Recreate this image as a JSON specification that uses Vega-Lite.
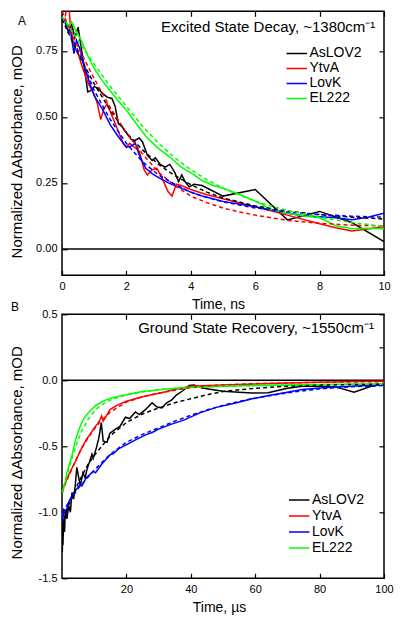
{
  "$schema": "https://vega.github.io/schema/vega-lite/v6.json",
  "autosize": {"type": "pad"},
  "padding": {"left": 8, "top": 9.3, "right": 10, "bottom": 8},
  "background": "white",
  "spacing": 39,
  "bounds": "flush",
  "config": {
    "view": {"stroke": "#000000", "strokeWidth": 1.5},
    "font": "Liberation Sans",
    "locale": {"number": {"decimal": ".", "thousands": ",", "grouping": [3], "currency": ["$", ""], "minus": "-"}},
    "axis": {
      "grid": false, "domain": false, "ticks": true,
      "tickColor": "#000000", "tickWidth": 1.2, "tickSize": 5, "offset": -5, "labelFlush": false,
      "labelColor": "#000000", "labelFont": "Liberation Sans", "labelFontSize": 11,
      "titleColor": "#000000", "titleFont": "Liberation Sans", "titleFontWeight": "normal"
    },
    "legend": {
      "orient": "none", "title": null,
      "labelFont": "Liberation Sans", "labelFontSize": 14, "labelColor": "#000",
      "symbolType": "M-4.3,0H4.3", "symbolStrokeWidth": 1.5, "symbolSize": 39,
      "rowPadding": 0, "labelOffset": 9, "padding": 0
    },
    "title": {"font": "Liberation Sans", "fontWeight": "normal", "color": "#000"}
  },
  "datasets": {
    "one": [{"k": 1}],
    "topObs": [
      {"s": "AsLOV2", "t": 0.08, "v": 0.87}, {"s": "AsLOV2", "t": 0.2, "v": 0.82}, {"s": "AsLOV2", "t": 0.3, "v": 0.85}, {"s": "AsLOV2", "t": 0.4, "v": 0.80}, {"s": "AsLOV2", "t": 0.5, "v": 0.84}, {"s": "AsLOV2", "t": 0.6, "v": 0.76}, {"s": "AsLOV2", "t": 0.7, "v": 0.68}, {"s": "AsLOV2", "t": 0.8, "v": 0.595}, {"s": "AsLOV2", "t": 0.9, "v": 0.60}, {"s": "AsLOV2", "t": 1.0, "v": 0.615}, {"s": "AsLOV2", "t": 1.1, "v": 0.61}, {"s": "AsLOV2", "t": 1.25, "v": 0.59}, {"s": "AsLOV2", "t": 1.4, "v": 0.575}, {"s": "AsLOV2", "t": 1.55, "v": 0.57}, {"s": "AsLOV2", "t": 1.65, "v": 0.54}, {"s": "AsLOV2", "t": 1.75, "v": 0.475}, {"s": "AsLOV2", "t": 1.85, "v": 0.465}, {"s": "AsLOV2", "t": 2.0, "v": 0.44}, {"s": "AsLOV2", "t": 2.15, "v": 0.415}, {"s": "AsLOV2", "t": 2.25, "v": 0.41}, {"s": "AsLOV2", "t": 2.4, "v": 0.42}, {"s": "AsLOV2", "t": 2.5, "v": 0.405}, {"s": "AsLOV2", "t": 2.65, "v": 0.355}, {"s": "AsLOV2", "t": 2.8, "v": 0.335}, {"s": "AsLOV2", "t": 2.9, "v": 0.345}, {"s": "AsLOV2", "t": 3.05, "v": 0.32}, {"s": "AsLOV2", "t": 3.2, "v": 0.31}, {"s": "AsLOV2", "t": 3.35, "v": 0.32}, {"s": "AsLOV2", "t": 3.5, "v": 0.29}, {"s": "AsLOV2", "t": 3.62, "v": 0.255}, {"s": "AsLOV2", "t": 3.72, "v": 0.28}, {"s": "AsLOV2", "t": 3.82, "v": 0.255}, {"s": "AsLOV2", "t": 3.95, "v": 0.235}, {"s": "AsLOV2", "t": 4.1, "v": 0.245}, {"s": "AsLOV2", "t": 4.35, "v": 0.24}, {"s": "AsLOV2", "t": 5.0, "v": 0.20}, {"s": "AsLOV2", "t": 6.0, "v": 0.225}, {"s": "AsLOV2", "t": 7.0, "v": 0.11}, {"s": "AsLOV2", "t": 8.0, "v": 0.142}, {"s": "AsLOV2", "t": 9.0, "v": 0.10}, {"s": "AsLOV2", "t": 10.0, "v": 0.028},
      {"s": "YtvA", "t": 0.1, "v": 0.88}, {"s": "YtvA", "t": 0.2, "v": 0.95}, {"s": "YtvA", "t": 0.25, "v": 0.86}, {"s": "YtvA", "t": 0.35, "v": 0.78}, {"s": "YtvA", "t": 0.4, "v": 0.76}, {"s": "YtvA", "t": 0.5, "v": 0.74}, {"s": "YtvA", "t": 0.6, "v": 0.70}, {"s": "YtvA", "t": 0.8, "v": 0.63}, {"s": "YtvA", "t": 1.0, "v": 0.585}, {"s": "YtvA", "t": 1.1, "v": 0.55}, {"s": "YtvA", "t": 1.2, "v": 0.49}, {"s": "YtvA", "t": 1.3, "v": 0.53}, {"s": "YtvA", "t": 1.4, "v": 0.55}, {"s": "YtvA", "t": 1.5, "v": 0.52}, {"s": "YtvA", "t": 1.7, "v": 0.46}, {"s": "YtvA", "t": 1.9, "v": 0.40}, {"s": "YtvA", "t": 2.0, "v": 0.385}, {"s": "YtvA", "t": 2.1, "v": 0.40}, {"s": "YtvA", "t": 2.25, "v": 0.385}, {"s": "YtvA", "t": 2.4, "v": 0.37}, {"s": "YtvA", "t": 2.55, "v": 0.30}, {"s": "YtvA", "t": 2.65, "v": 0.28}, {"s": "YtvA", "t": 2.8, "v": 0.30}, {"s": "YtvA", "t": 2.95, "v": 0.305}, {"s": "YtvA", "t": 3.1, "v": 0.27}, {"s": "YtvA", "t": 3.3, "v": 0.215}, {"s": "YtvA", "t": 3.42, "v": 0.20}, {"s": "YtvA", "t": 3.55, "v": 0.245}, {"s": "YtvA", "t": 3.7, "v": 0.24}, {"s": "YtvA", "t": 4.0, "v": 0.225}, {"s": "YtvA", "t": 4.5, "v": 0.205}, {"s": "YtvA", "t": 5.0, "v": 0.19}, {"s": "YtvA", "t": 6.0, "v": 0.16}, {"s": "YtvA", "t": 7.0, "v": 0.128}, {"s": "YtvA", "t": 8.0, "v": 0.095}, {"s": "YtvA", "t": 8.5, "v": 0.08}, {"s": "YtvA", "t": 9.0, "v": 0.068}, {"s": "YtvA", "t": 9.5, "v": 0.075}, {"s": "YtvA", "t": 10.0, "v": 0.085},
      {"s": "LovK", "t": 0.15, "v": 0.85}, {"s": "LovK", "t": 0.25, "v": 0.84}, {"s": "LovK", "t": 0.32, "v": 0.78}, {"s": "LovK", "t": 0.37, "v": 0.74}, {"s": "LovK", "t": 0.45, "v": 0.79}, {"s": "LovK", "t": 0.55, "v": 0.76}, {"s": "LovK", "t": 0.7, "v": 0.69}, {"s": "LovK", "t": 0.85, "v": 0.63}, {"s": "LovK", "t": 1.0, "v": 0.58}, {"s": "LovK", "t": 1.25, "v": 0.53}, {"s": "LovK", "t": 1.5, "v": 0.47}, {"s": "LovK", "t": 1.75, "v": 0.425}, {"s": "LovK", "t": 2.0, "v": 0.385}, {"s": "LovK", "t": 2.15, "v": 0.39}, {"s": "LovK", "t": 2.28, "v": 0.40}, {"s": "LovK", "t": 2.4, "v": 0.355}, {"s": "LovK", "t": 2.6, "v": 0.305}, {"s": "LovK", "t": 2.8, "v": 0.285}, {"s": "LovK", "t": 3.0, "v": 0.27}, {"s": "LovK", "t": 3.3, "v": 0.25}, {"s": "LovK", "t": 3.6, "v": 0.235}, {"s": "LovK", "t": 4.0, "v": 0.215}, {"s": "LovK", "t": 4.35, "v": 0.20}, {"s": "LovK", "t": 5.0, "v": 0.18}, {"s": "LovK", "t": 6.0, "v": 0.16}, {"s": "LovK", "t": 7.0, "v": 0.135}, {"s": "LovK", "t": 7.5, "v": 0.126}, {"s": "LovK", "t": 8.0, "v": 0.122}, {"s": "LovK", "t": 8.5, "v": 0.118}, {"s": "LovK", "t": 9.0, "v": 0.11}, {"s": "LovK", "t": 9.5, "v": 0.12}, {"s": "LovK", "t": 10.0, "v": 0.135},
      {"s": "EL222", "t": 0.1, "v": 0.87}, {"s": "EL222", "t": 0.2, "v": 0.84}, {"s": "EL222", "t": 0.3, "v": 0.86}, {"s": "EL222", "t": 0.45, "v": 0.82}, {"s": "EL222", "t": 0.6, "v": 0.79}, {"s": "EL222", "t": 0.77, "v": 0.74}, {"s": "EL222", "t": 0.97, "v": 0.69}, {"s": "EL222", "t": 1.2, "v": 0.645}, {"s": "EL222", "t": 1.49, "v": 0.60}, {"s": "EL222", "t": 1.75, "v": 0.56}, {"s": "EL222", "t": 2.01, "v": 0.524}, {"s": "EL222", "t": 2.3, "v": 0.475}, {"s": "EL222", "t": 2.63, "v": 0.423}, {"s": "EL222", "t": 3.0, "v": 0.38}, {"s": "EL222", "t": 3.36, "v": 0.347}, {"s": "EL222", "t": 3.7, "v": 0.31}, {"s": "EL222", "t": 4.06, "v": 0.284}, {"s": "EL222", "t": 4.35, "v": 0.259}, {"s": "EL222", "t": 4.7, "v": 0.24}, {"s": "EL222", "t": 5.0, "v": 0.23}, {"s": "EL222", "t": 5.4, "v": 0.212}, {"s": "EL222", "t": 5.9, "v": 0.186}, {"s": "EL222", "t": 6.2, "v": 0.17}, {"s": "EL222", "t": 6.4, "v": 0.152}, {"s": "EL222", "t": 7.0, "v": 0.135}, {"s": "EL222", "t": 7.5, "v": 0.125}, {"s": "EL222", "t": 8.0, "v": 0.118}, {"s": "EL222", "t": 8.5, "v": 0.088}, {"s": "EL222", "t": 9.0, "v": 0.076}, {"s": "EL222", "t": 9.5, "v": 0.078}, {"s": "EL222", "t": 10.0, "v": 0.076}
    ],
    "topFit": [
      {"s": "AsLOV2", "t": 0, "v": 0.87}, {"s": "AsLOV2", "t": 0.5, "v": 0.74}, {"s": "AsLOV2", "t": 1, "v": 0.625}, {"s": "AsLOV2", "t": 1.5, "v": 0.525}, {"s": "AsLOV2", "t": 2, "v": 0.44}, {"s": "AsLOV2", "t": 2.5, "v": 0.375}, {"s": "AsLOV2", "t": 3, "v": 0.32}, {"s": "AsLOV2", "t": 3.5, "v": 0.278}, {"s": "AsLOV2", "t": 4, "v": 0.243}, {"s": "AsLOV2", "t": 4.5, "v": 0.215}, {"s": "AsLOV2", "t": 5, "v": 0.193}, {"s": "AsLOV2", "t": 6, "v": 0.163}, {"s": "AsLOV2", "t": 7, "v": 0.143}, {"s": "AsLOV2", "t": 8, "v": 0.13}, {"s": "AsLOV2", "t": 9, "v": 0.12}, {"s": "AsLOV2", "t": 10, "v": 0.113},
      {"s": "YtvA", "t": 0, "v": 0.9}, {"s": "YtvA", "t": 0.25, "v": 0.83}, {"s": "YtvA", "t": 0.5, "v": 0.765}, {"s": "YtvA", "t": 1, "v": 0.645}, {"s": "YtvA", "t": 1.5, "v": 0.535}, {"s": "YtvA", "t": 2, "v": 0.44}, {"s": "YtvA", "t": 2.5, "v": 0.36}, {"s": "YtvA", "t": 3, "v": 0.29}, {"s": "YtvA", "t": 3.5, "v": 0.24}, {"s": "YtvA", "t": 4, "v": 0.20}, {"s": "YtvA", "t": 4.5, "v": 0.175}, {"s": "YtvA", "t": 5, "v": 0.155}, {"s": "YtvA", "t": 5.5, "v": 0.14}, {"s": "YtvA", "t": 6, "v": 0.128}, {"s": "YtvA", "t": 7, "v": 0.108}, {"s": "YtvA", "t": 8, "v": 0.097}, {"s": "YtvA", "t": 9, "v": 0.09}, {"s": "YtvA", "t": 10, "v": 0.087},
      {"s": "LovK", "t": 0, "v": 0.88}, {"s": "LovK", "t": 0.5, "v": 0.75}, {"s": "LovK", "t": 1, "v": 0.60}, {"s": "LovK", "t": 1.5, "v": 0.49}, {"s": "LovK", "t": 2, "v": 0.40}, {"s": "LovK", "t": 2.5, "v": 0.33}, {"s": "LovK", "t": 3, "v": 0.28}, {"s": "LovK", "t": 3.5, "v": 0.245}, {"s": "LovK", "t": 4, "v": 0.215}, {"s": "LovK", "t": 4.5, "v": 0.195}, {"s": "LovK", "t": 5, "v": 0.178}, {"s": "LovK", "t": 6, "v": 0.155}, {"s": "LovK", "t": 7, "v": 0.14}, {"s": "LovK", "t": 8, "v": 0.13}, {"s": "LovK", "t": 9, "v": 0.124}, {"s": "LovK", "t": 10, "v": 0.12},
      {"s": "EL222", "t": 0, "v": 0.88}, {"s": "EL222", "t": 0.5, "v": 0.79}, {"s": "EL222", "t": 1, "v": 0.70}, {"s": "EL222", "t": 1.5, "v": 0.615}, {"s": "EL222", "t": 2, "v": 0.54}, {"s": "EL222", "t": 2.5, "v": 0.465}, {"s": "EL222", "t": 3, "v": 0.40}, {"s": "EL222", "t": 3.5, "v": 0.345}, {"s": "EL222", "t": 4, "v": 0.30}, {"s": "EL222", "t": 4.5, "v": 0.262}, {"s": "EL222", "t": 5, "v": 0.23}, {"s": "EL222", "t": 6, "v": 0.18}, {"s": "EL222", "t": 7, "v": 0.145}, {"s": "EL222", "t": 8, "v": 0.12}, {"s": "EL222", "t": 9, "v": 0.10}, {"s": "EL222", "t": 10, "v": 0.085}
    ],
    "botObs": [
      {"s": "AsLOV2", "t": 0.1, "v": -1.3}, {"s": "AsLOV2", "t": 0.2, "v": -1.1}, {"s": "AsLOV2", "t": 0.3, "v": -1.25}, {"s": "AsLOV2", "t": 0.5, "v": -1.05}, {"s": "AsLOV2", "t": 0.8, "v": -1.15}, {"s": "AsLOV2", "t": 1.0, "v": -0.98}, {"s": "AsLOV2", "t": 1.5, "v": -1.05}, {"s": "AsLOV2", "t": 2.1, "v": -0.95}, {"s": "AsLOV2", "t": 2.6, "v": -1.0}, {"s": "AsLOV2", "t": 3.1, "v": -0.85}, {"s": "AsLOV2", "t": 3.6, "v": -0.9}, {"s": "AsLOV2", "t": 4.1, "v": -0.8}, {"s": "AsLOV2", "t": 4.6, "v": -0.66}, {"s": "AsLOV2", "t": 5.2, "v": -0.74}, {"s": "AsLOV2", "t": 5.7, "v": -0.8}, {"s": "AsLOV2", "t": 6.5, "v": -0.7}, {"s": "AsLOV2", "t": 7.2, "v": -0.74}, {"s": "AsLOV2", "t": 7.7, "v": -0.68}, {"s": "AsLOV2", "t": 8.5, "v": -0.62}, {"s": "AsLOV2", "t": 9.3, "v": -0.56}, {"s": "AsLOV2", "t": 9.7, "v": -0.59}, {"s": "AsLOV2", "t": 10.7, "v": -0.51}, {"s": "AsLOV2", "t": 11.5, "v": -0.43}, {"s": "AsLOV2", "t": 12.2, "v": -0.32}, {"s": "AsLOV2", "t": 12.8, "v": -0.46}, {"s": "AsLOV2", "t": 14.0, "v": -0.47}, {"s": "AsLOV2", "t": 14.9, "v": -0.40}, {"s": "AsLOV2", "t": 16.6, "v": -0.37}, {"s": "AsLOV2", "t": 18.0, "v": -0.35}, {"s": "AsLOV2", "t": 19.7, "v": -0.28}, {"s": "AsLOV2", "t": 21.0, "v": -0.29}, {"s": "AsLOV2", "t": 22.8, "v": -0.24}, {"s": "AsLOV2", "t": 24.0, "v": -0.26}, {"s": "AsLOV2", "t": 26.0, "v": -0.22}, {"s": "AsLOV2", "t": 28.0, "v": -0.17}, {"s": "AsLOV2", "t": 29.4, "v": -0.20}, {"s": "AsLOV2", "t": 31.0, "v": -0.21}, {"s": "AsLOV2", "t": 32.5, "v": -0.17}, {"s": "AsLOV2", "t": 34.0, "v": -0.15}, {"s": "AsLOV2", "t": 35.6, "v": -0.11}, {"s": "AsLOV2", "t": 37.3, "v": -0.083}, {"s": "AsLOV2", "t": 39.5, "v": -0.04}, {"s": "AsLOV2", "t": 41.0, "v": -0.035}, {"s": "AsLOV2", "t": 43.5, "v": -0.058}, {"s": "AsLOV2", "t": 50.0, "v": -0.083}, {"s": "AsLOV2", "t": 55.0, "v": -0.09}, {"s": "AsLOV2", "t": 59.0, "v": -0.096}, {"s": "AsLOV2", "t": 64.0, "v": -0.095}, {"s": "AsLOV2", "t": 70.0, "v": -0.06}, {"s": "AsLOV2", "t": 74.6, "v": -0.045}, {"s": "AsLOV2", "t": 80.0, "v": -0.045}, {"s": "AsLOV2", "t": 85.0, "v": -0.05}, {"s": "AsLOV2", "t": 90.7, "v": -0.09}, {"s": "AsLOV2", "t": 96.0, "v": -0.045}, {"s": "AsLOV2", "t": 100.0, "v": -0.03},
      {"s": "YtvA", "t": 0.3, "v": -0.82}, {"s": "YtvA", "t": 1.0, "v": -0.78}, {"s": "YtvA", "t": 2.0, "v": -0.72}, {"s": "YtvA", "t": 3.0, "v": -0.67}, {"s": "YtvA", "t": 4.1, "v": -0.62}, {"s": "YtvA", "t": 5.0, "v": -0.57}, {"s": "YtvA", "t": 6.2, "v": -0.51}, {"s": "YtvA", "t": 7.5, "v": -0.45}, {"s": "YtvA", "t": 8.7, "v": -0.41}, {"s": "YtvA", "t": 10.0, "v": -0.36}, {"s": "YtvA", "t": 11.0, "v": -0.33}, {"s": "YtvA", "t": 11.8, "v": -0.30}, {"s": "YtvA", "t": 12.3, "v": -0.27}, {"s": "YtvA", "t": 12.8, "v": -0.31}, {"s": "YtvA", "t": 14.0, "v": -0.26}, {"s": "YtvA", "t": 14.9, "v": -0.222}, {"s": "YtvA", "t": 17.0, "v": -0.19}, {"s": "YtvA", "t": 20.0, "v": -0.159}, {"s": "YtvA", "t": 25.0, "v": -0.125}, {"s": "YtvA", "t": 30.5, "v": -0.096}, {"s": "YtvA", "t": 35.0, "v": -0.07}, {"s": "YtvA", "t": 39.8, "v": -0.045}, {"s": "YtvA", "t": 45.0, "v": -0.04}, {"s": "YtvA", "t": 50.0, "v": -0.035}, {"s": "YtvA", "t": 60.0, "v": -0.028}, {"s": "YtvA", "t": 70.0, "v": -0.02}, {"s": "YtvA", "t": 80.0, "v": -0.015}, {"s": "YtvA", "t": 90.0, "v": -0.01}, {"s": "YtvA", "t": 100.0, "v": -0.008},
      {"s": "LovK", "t": 0.2, "v": -1.07}, {"s": "LovK", "t": 0.6, "v": -0.98}, {"s": "LovK", "t": 1.2, "v": -1.0}, {"s": "LovK", "t": 2.1, "v": -0.92}, {"s": "LovK", "t": 3.0, "v": -0.88}, {"s": "LovK", "t": 4.1, "v": -0.84}, {"s": "LovK", "t": 5.6, "v": -0.79}, {"s": "LovK", "t": 6.2, "v": -0.80}, {"s": "LovK", "t": 7.5, "v": -0.74}, {"s": "LovK", "t": 9.7, "v": -0.69}, {"s": "LovK", "t": 10.4, "v": -0.70}, {"s": "LovK", "t": 12.5, "v": -0.63}, {"s": "LovK", "t": 14.9, "v": -0.565}, {"s": "LovK", "t": 16.0, "v": -0.555}, {"s": "LovK", "t": 17.5, "v": -0.52}, {"s": "LovK", "t": 20.1, "v": -0.487}, {"s": "LovK", "t": 23.0, "v": -0.45}, {"s": "LovK", "t": 26.3, "v": -0.41}, {"s": "LovK", "t": 28.0, "v": -0.395}, {"s": "LovK", "t": 30.0, "v": -0.37}, {"s": "LovK", "t": 33.6, "v": -0.336}, {"s": "LovK", "t": 38.0, "v": -0.30}, {"s": "LovK", "t": 43.0, "v": -0.245}, {"s": "LovK", "t": 48.0, "v": -0.205}, {"s": "LovK", "t": 53.9, "v": -0.172}, {"s": "LovK", "t": 59.0, "v": -0.14}, {"s": "LovK", "t": 64.2, "v": -0.116}, {"s": "LovK", "t": 70.0, "v": -0.09}, {"s": "LovK", "t": 74.6, "v": -0.07}, {"s": "LovK", "t": 80.0, "v": -0.058}, {"s": "LovK", "t": 84.9, "v": -0.05}, {"s": "LovK", "t": 90.0, "v": -0.045}, {"s": "LovK", "t": 95.0, "v": -0.04}, {"s": "LovK", "t": 100.0, "v": -0.035},
      {"s": "EL222", "t": 0.3, "v": -0.85}, {"s": "EL222", "t": 0.6, "v": -0.80}, {"s": "EL222", "t": 1.0, "v": -0.78}, {"s": "EL222", "t": 1.5, "v": -0.70}, {"s": "EL222", "t": 2.0, "v": -0.66}, {"s": "EL222", "t": 3.1, "v": -0.57}, {"s": "EL222", "t": 4.0, "v": -0.47}, {"s": "EL222", "t": 4.6, "v": -0.42}, {"s": "EL222", "t": 5.5, "v": -0.36}, {"s": "EL222", "t": 6.5, "v": -0.30}, {"s": "EL222", "t": 7.7, "v": -0.26}, {"s": "EL222", "t": 9.0, "v": -0.225}, {"s": "EL222", "t": 10.5, "v": -0.19}, {"s": "EL222", "t": 11.8, "v": -0.172}, {"s": "EL222", "t": 14.0, "v": -0.145}, {"s": "EL222", "t": 16.0, "v": -0.13}, {"s": "EL222", "t": 18.0, "v": -0.118}, {"s": "EL222", "t": 20.0, "v": -0.109}, {"s": "EL222", "t": 25.0, "v": -0.085}, {"s": "EL222", "t": 30.0, "v": -0.072}, {"s": "EL222", "t": 35.0, "v": -0.06}, {"s": "EL222", "t": 40.0, "v": -0.053}, {"s": "EL222", "t": 50.0, "v": -0.045}, {"s": "EL222", "t": 60.0, "v": -0.04}, {"s": "EL222", "t": 70.0, "v": -0.035}, {"s": "EL222", "t": 80.0, "v": -0.032}, {"s": "EL222", "t": 90.0, "v": -0.03}, {"s": "EL222", "t": 100.0, "v": -0.028}
    ],
    "botFit": [
      {"s": "AsLOV2", "t": 0, "v": -1.1}, {"s": "AsLOV2", "t": 2, "v": -0.95}, {"s": "AsLOV2", "t": 5, "v": -0.78}, {"s": "AsLOV2", "t": 8, "v": -0.64}, {"s": "AsLOV2", "t": 10, "v": -0.57}, {"s": "AsLOV2", "t": 15, "v": -0.42}, {"s": "AsLOV2", "t": 20, "v": -0.32}, {"s": "AsLOV2", "t": 25, "v": -0.255}, {"s": "AsLOV2", "t": 30, "v": -0.21}, {"s": "AsLOV2", "t": 35, "v": -0.17}, {"s": "AsLOV2", "t": 40, "v": -0.14}, {"s": "AsLOV2", "t": 45, "v": -0.11}, {"s": "AsLOV2", "t": 50, "v": -0.085}, {"s": "AsLOV2", "t": 60, "v": -0.06}, {"s": "AsLOV2", "t": 70, "v": -0.045}, {"s": "AsLOV2", "t": 80, "v": -0.037}, {"s": "AsLOV2", "t": 90, "v": -0.032}, {"s": "AsLOV2", "t": 100, "v": -0.03},
      {"s": "YtvA", "t": 0, "v": -0.85}, {"s": "YtvA", "t": 2, "v": -0.73}, {"s": "YtvA", "t": 4, "v": -0.62}, {"s": "YtvA", "t": 6, "v": -0.52}, {"s": "YtvA", "t": 8, "v": -0.44}, {"s": "YtvA", "t": 10, "v": -0.37}, {"s": "YtvA", "t": 12, "v": -0.31}, {"s": "YtvA", "t": 15, "v": -0.24}, {"s": "YtvA", "t": 20, "v": -0.165}, {"s": "YtvA", "t": 25, "v": -0.125}, {"s": "YtvA", "t": 30, "v": -0.097}, {"s": "YtvA", "t": 35, "v": -0.075}, {"s": "YtvA", "t": 40, "v": -0.055}, {"s": "YtvA", "t": 50, "v": -0.035}, {"s": "YtvA", "t": 60, "v": -0.025}, {"s": "YtvA", "t": 80, "v": -0.015}, {"s": "YtvA", "t": 100, "v": -0.01},
      {"s": "LovK", "t": 0, "v": -1.0}, {"s": "LovK", "t": 2, "v": -0.93}, {"s": "LovK", "t": 5, "v": -0.82}, {"s": "LovK", "t": 10, "v": -0.68}, {"s": "LovK", "t": 15, "v": -0.56}, {"s": "LovK", "t": 20, "v": -0.47}, {"s": "LovK", "t": 25, "v": -0.41}, {"s": "LovK", "t": 30, "v": -0.36}, {"s": "LovK", "t": 35, "v": -0.31}, {"s": "LovK", "t": 40, "v": -0.265}, {"s": "LovK", "t": 45, "v": -0.225}, {"s": "LovK", "t": 50, "v": -0.19}, {"s": "LovK", "t": 55, "v": -0.16}, {"s": "LovK", "t": 60, "v": -0.135}, {"s": "LovK", "t": 70, "v": -0.095}, {"s": "LovK", "t": 80, "v": -0.065}, {"s": "LovK", "t": 90, "v": -0.048}, {"s": "LovK", "t": 100, "v": -0.04},
      {"s": "EL222", "t": 0, "v": -0.85}, {"s": "EL222", "t": 1, "v": -0.77}, {"s": "EL222", "t": 2, "v": -0.68}, {"s": "EL222", "t": 3, "v": -0.60}, {"s": "EL222", "t": 4, "v": -0.52}, {"s": "EL222", "t": 5, "v": -0.45}, {"s": "EL222", "t": 6, "v": -0.39}, {"s": "EL222", "t": 8, "v": -0.30}, {"s": "EL222", "t": 10, "v": -0.235}, {"s": "EL222", "t": 12, "v": -0.19}, {"s": "EL222", "t": 15, "v": -0.15}, {"s": "EL222", "t": 20, "v": -0.11}, {"s": "EL222", "t": 25, "v": -0.088}, {"s": "EL222", "t": 30, "v": -0.072}, {"s": "EL222", "t": 40, "v": -0.055}, {"s": "EL222", "t": 50, "v": -0.045}, {"s": "EL222", "t": 60, "v": -0.04}, {"s": "EL222", "t": 80, "v": -0.033}, {"s": "EL222", "t": 100, "v": -0.028}
    ]
  },
  "resolve": {"scale": {"color": "independent"}, "legend": {"color": "independent"}},
  "vconcat": [
    {
      "width": 322,
      "height": 264,
      "title": {"text": "A", "anchor": "start", "frame": "group", "offset": 0, "dx": -44, "dy": 26, "baseline": "alphabetic", "fontSize": 12},
      "layer": [
        {
          "data": {"name": "one"},
          "mark": {"type": "rule", "color": "#000", "strokeWidth": 1.5},
          "encoding": {"y": {"datum": 0, "type": "quantitative", "axis": null}}
        },
        {
          "data": {"name": "topObs"},
          "mark": {"type": "line", "strokeWidth": 1.5, "clip": true},
          "encoding": {
            "x": {"field": "t", "type": "quantitative", "scale": {"domain": [0, 10], "nice": false, "zero": false},
                  "axis": {"orient": "bottom", "values": [0, 2, 4, 6, 8, 10], "title": "Time, ns", "titleFontSize": 14, "labelPadding": 4.9, "titlePadding": 6.5, "titleX": 156}},
            "y": {"field": "v", "type": "quantitative", "scale": {"domain": [-0.1, 0.9], "nice": false, "zero": false},
                  "axis": {"orient": "left", "values": [0, 0.25, 0.5, 0.75], "format": ".2f", "title": "Normalized ΔAbsorbance, mOD", "titleFontSize": 15, "labelPadding": 5, "titlePadding": 11, "titleY": 140}},
            "color": {"field": "s", "type": "nominal",
                      "scale": {"domain": ["AsLOV2", "YtvA", "LovK", "EL222"], "range": ["#000000", "#ff0000", "#0000ff", "#00ff00"]},
                      "legend": {"legendX": 224.5, "legendY": 35, "clipHeight": 14.2}},
            "detail": {"field": "s"}
          }
        },
        {
          "data": {"name": "topFit"},
          "mark": {"type": "line", "strokeWidth": 1.5, "strokeDash": [4, 3], "clip": true},
          "encoding": {
            "x": {"field": "t", "type": "quantitative", "axis": {"orient": "top", "values": [0, 2, 4, 6, 8, 10], "labels": false, "title": null}},
            "y": {"field": "v", "type": "quantitative", "axis": {"orient": "right", "values": [0, 0.25, 0.5, 0.75], "labels": false, "title": null}},
            "color": {"field": "s", "type": "nominal", "legend": null},
            "detail": {"field": "s"}
          }
        },
        {
          "data": {"name": "one"},
          "mark": {"type": "text", "align": "right", "baseline": "alphabetic", "fontSize": 15, "font": "Liberation Sans", "color": "#000"},
          "encoding": {
            "x": {"datum": 9.73, "type": "quantitative", "axis": null},
            "y": {"datum": 0.822, "type": "quantitative", "axis": null},
            "text": {"value": "Excited State Decay, ~1380cm⁻¹"}
          }
        }
      ]
    },
    {
      "width": 322,
      "height": 264,
      "title": {"text": "B", "anchor": "start", "frame": "group", "offset": 0, "dx": -51, "dy": 15, "baseline": "alphabetic", "fontSize": 12},
      "layer": [
        {
          "data": {"name": "one"},
          "mark": {"type": "rule", "color": "#000", "strokeWidth": 1.5},
          "encoding": {"y": {"datum": 0, "type": "quantitative", "axis": null}}
        },
        {
          "data": {"name": "botObs"},
          "mark": {"type": "line", "strokeWidth": 1.5, "clip": true},
          "encoding": {
            "x": {"field": "t", "type": "quantitative", "scale": {"domain": [0, 100], "nice": false, "zero": false},
                  "axis": {"orient": "bottom", "values": [20, 40, 60, 80, 100], "title": "Time, µs", "titleFontSize": 14, "labelPadding": 4.9, "titlePadding": 6.5, "titleX": 157}},
            "y": {"field": "v", "type": "quantitative", "scale": {"domain": [-1.5, 0.5], "nice": false, "zero": false},
                  "axis": {"orient": "left", "values": [-1.5, -1, -0.5, 0, 0.5], "format": ".1f", "title": "Normalized ΔAbsorbance, mOD", "titleFontSize": 15, "labelPadding": 5, "titlePadding": 13.5, "titleY": 138}},
            "color": {"field": "s", "type": "nominal",
                      "scale": {"domain": ["AsLOV2", "YtvA", "LovK", "EL222"], "range": ["#000000", "#ff0000", "#0000ff", "#00ff00"]},
                      "legend": {"legendX": 227, "legendY": 178, "clipHeight": 15.3}},
            "detail": {"field": "s"}
          }
        },
        {
          "data": {"name": "botFit"},
          "mark": {"type": "line", "strokeWidth": 1.5, "strokeDash": [4, 3], "clip": true},
          "encoding": {
            "x": {"field": "t", "type": "quantitative", "axis": {"orient": "top", "values": [20, 40, 60, 80], "labels": false, "title": null}},
            "y": {"field": "v", "type": "quantitative", "axis": {"orient": "right", "values": [-1, -0.5, 0.25, 0.5], "labels": false, "title": null}},
            "color": {"field": "s", "type": "nominal", "legend": null},
            "detail": {"field": "s"}
          }
        },
        {
          "data": {"name": "one"},
          "mark": {"type": "text", "align": "right", "baseline": "alphabetic", "fontSize": 15, "font": "Liberation Sans", "color": "#000"},
          "encoding": {
            "x": {"datum": 96.9, "type": "quantitative", "axis": null},
            "y": {"datum": 0.36, "type": "quantitative", "axis": null},
            "text": {"value": "Ground State Recovery, ~1550cm⁻¹"}
          }
        }
      ]
    }
  ]
}
